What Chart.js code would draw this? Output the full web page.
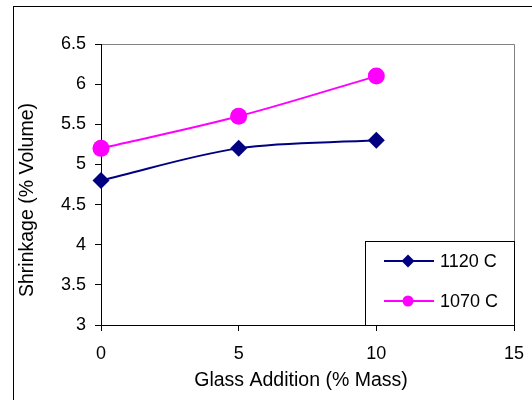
<!DOCTYPE html>
<html>
<head>
<meta charset="utf-8">
<title>Shrinkage vs Glass Addition</title>
<script src="https://cdn.jsdelivr.net/npm/chart.js@4.4.1/dist/chart.umd.min.js"></script>
<style>
  html, body { margin: 0; padding: 0; background: #fff; }
  canvas { display: block; }
</style>
</head>
<body>
<canvas id="shrinkChart" width="532" height="400"></canvas>
<script>
// Glass addition (% mass) vs volume shrinkage at two firing temperatures
const glassAddition = [0, 5, 10];
const shrinkage1120 = [4.8, 5.2, 5.3];
const shrinkage1070 = [5.2, 5.6, 6.1];
const seriesLabels = ['1120 C', '1070 C'];
const xTitle = 'Glass Addition (% Mass)';
const yTitle = 'Shrinkage (% Volume)';

const FONT = 'Arial, "Liberation Sans", Helvetica, sans-serif';
const NAVY = '#000080';
const MAGENTA = '#ff00ff';

const toPoints = values => values.map((v, i) => ({ x: glassAddition[i], y: v }));

function drawMarker(ctx, style, x, y, r, color) {
  ctx.fillStyle = color;
  ctx.beginPath();
  if (style === 'rectRot') {
    ctx.moveTo(x, y - r);
    ctx.lineTo(x + r, y);
    ctx.lineTo(x, y + r);
    ctx.lineTo(x - r, y);
    ctx.closePath();
  } else {
    ctx.arc(x, y, r, 0, Math.PI * 2);
  }
  ctx.fill();
}

// white page, outer frame and the grey top/right edges of the plot area
const chartFrame = {
  id: 'chartFrame',
  beforeDraw(chart) {
    const { ctx, chartArea: a } = chart;
    ctx.save();
    ctx.fillStyle = '#fff';
    ctx.fillRect(0, 0, chart.width, chart.height);
    ctx.strokeStyle = '#000';
    ctx.lineWidth = 1;
    ctx.strokeRect(13.5, 6.5, 800, 600);
    ctx.strokeStyle = '#808080';
    ctx.beginPath();
    ctx.moveTo(a.left, Math.round(a.top) + 0.5);
    ctx.lineTo(Math.round(a.right) + 0.5, Math.round(a.top) + 0.5);
    ctx.lineTo(Math.round(a.right) + 0.5, a.bottom);
    ctx.stroke();
    ctx.restore();
  },
  // axis titles are centred on the whole chart rather than the plot area
  afterDraw(chart) {
    const { ctx } = chart;
    ctx.save();
    ctx.fillStyle = '#000';
    ctx.font = '19.5px ' + FONT;
    ctx.textAlign = 'center';
    ctx.textBaseline = 'middle';
    ctx.fillText(xTitle, 301, 381);
    ctx.translate(28, 200);
    ctx.rotate(-Math.PI / 2);
    ctx.fillText(yTitle, 0, 0);
    ctx.restore();
  }
};

// Excel-style legend box sitting in the lower right corner of the plot
const boxLegend = {
  id: 'boxLegend',
  afterDatasetsDraw(chart) {
    const { ctx, chartArea: a } = chart;
    const w = 149, h = 84;
    const left = Math.round(a.right) - w;
    const top = Math.round(a.bottom) - h;
    ctx.save();
    ctx.fillStyle = '#fff';
    ctx.fillRect(left, top, w, h);
    ctx.strokeStyle = '#000';
    ctx.lineWidth = 1;
    ctx.strokeRect(left + 0.5, top + 0.5, w, h);
    ctx.font = '18px ' + FONT;
    ctx.textBaseline = 'middle';
    ctx.textAlign = 'left';
    chart.data.datasets.forEach((ds, i) => {
      const y = top + 20 + i * 40;
      ctx.strokeStyle = ds.borderColor;
      ctx.lineWidth = 2;
      ctx.beginPath();
      ctx.moveTo(left + 19, y);
      ctx.lineTo(left + 69, y);
      ctx.stroke();
      drawMarker(ctx, ds.pointStyle, left + 43, y, ds.pointStyle === 'rectRot' ? 6.5 : 5.5, ds.pointBackgroundColor);
      ctx.fillStyle = '#000';
      ctx.fillText(ds.label, left + 75, y + 1);
    });
    ctx.restore();
  }
};

new Chart(document.getElementById('shrinkChart'), {
  type: 'line',
  data: {
    datasets: [
      {
        label: seriesLabels[0],
        data: toPoints(shrinkage1120),
        borderColor: NAVY,
        borderWidth: 2,
        pointStyle: 'rectRot',
        pointRadius: 8.5,
        pointBackgroundColor: NAVY,
        pointBorderColor: NAVY,
        pointBorderWidth: 0,
        tension: 0.35,
        clip: false
      },
      {
        label: seriesLabels[1],
        data: toPoints(shrinkage1070),
        borderColor: MAGENTA,
        borderWidth: 2,
        pointStyle: 'circle',
        pointRadius: 8.5,
        pointBackgroundColor: MAGENTA,
        pointBorderColor: MAGENTA,
        pointBorderWidth: 0,
        tension: 0.35,
        clip: false
      }
    ]
  },
  options: {
    responsive: false,
    animation: false,
    devicePixelRatio: 1,
    layout: { padding: { left: 0, top: 44, right: 18, bottom: 0 } },
    plugins: {
      legend: { display: false },
      tooltip: { enabled: false }
    },
    scales: {
      x: {
        type: 'linear',
        min: 0,
        max: 15,
        afterFit: scale => {
          scale.height = 75;
          scale.paddingLeft = 0;
          scale.paddingRight = 0;
        },
        border: { color: '#000', width: 1 },
        grid: { drawOnChartArea: false, drawTicks: true, tickLength: 6, color: '#000' },
        ticks: {
          stepSize: 5,
          maxRotation: 0,
          padding: 12,
          color: '#000',
          font: { family: FONT, size: 18 }
        }
      },
      y: {
        min: 3,
        max: 6.5,
        afterFit: scale => {
          scale.width = 101;
          scale.paddingTop = 0;
          scale.paddingBottom = 0;
        },
        border: { color: '#000', width: 1 },
        grid: { drawOnChartArea: false, drawTicks: true, tickLength: 6, color: '#000' },
        ticks: {
          stepSize: 0.5,
          padding: 9,
          color: '#000',
          font: { family: FONT, size: 18 },
          callback: v => String(v)
        }
      }
    }
  },
  plugins: [chartFrame, boxLegend]
});
</script>
</body>
</html>
